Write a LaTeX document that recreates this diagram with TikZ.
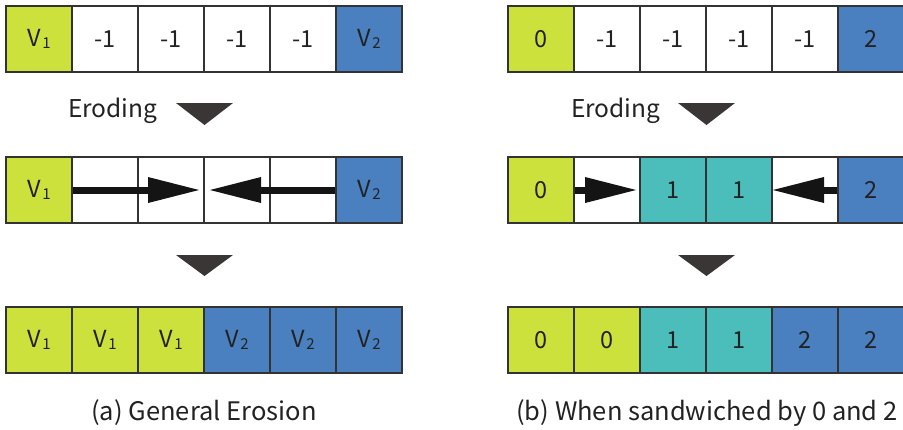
\documentclass[tikz,border=0pt]{standalone}
\usepackage{fontspec}
\setmainfont{Noto Sans CJK JP}
\usetikzlibrary{arrows.meta}
\definecolor{cgreen}{HTML}{CDE13C}
\definecolor{cblue}{HTML}{4A80C0}
\definecolor{cteal}{HTML}{4BBDBA}
\definecolor{cborder}{HTML}{333333}
\definecolor{ctri}{HTML}{3A3636}
\definecolor{ctext}{HTML}{222222}
\newcommand{\Vsub}[1]{V\kern1.5pt\raisebox{-1.5pt}{\fontsize{15}{15}\selectfont #1}}
\tikzset{
  cell/.style={draw=cborder, line width=2pt, minimum width=66pt, minimum height=66pt,
    inner sep=0pt, text=ctext, font=\fontsize{23.5}{23.5}\selectfont},
  gcell/.style={cell, fill=cgreen},
  bcell/.style={cell, fill=cblue},
  tcell/.style={cell, fill=cteal},
  wcell/.style={cell, fill=white},
  lbl/.style={inner sep=0pt, text=ctext, font=\fontsize{24.5}{24.5}\selectfont, anchor=base west},
  captext/.style={inner sep=0pt, text=ctext, font=\fontsize{25.5}{25.5}\selectfont, anchor=base},
  flow/.style={line width=7pt, draw=black!92, -{Triangle[length=51pt,width=26pt,line width=0pt]}},
  downtri/.style={fill=ctri}
}
\begin{document}
\begin{tikzpicture}[x=1pt,y=-1pt]
\useasboundingbox (0,0) rectangle (903,429);
% ---------- left panel ----------
% top row
\node[gcell] (a11) at (39,39) {\Vsub{1}};
\node[wcell] (a12) at (105,39) {-1};
\node[wcell] (a13) at (171,39) {-1};
\node[wcell] (a14) at (237,39) {-1};
\node[wcell] (a15) at (303,39) {-1};
\node[bcell] (a16) at (369,39) {\Vsub{2}};
\node[lbl] (aer) at (68,117) {Eroding};
\fill[downtri] (176,103) -- (233,103) -- (204.5,125) -- cycle;
% middle row
\node[wcell] (a22) at (105,190) {};
\node[wcell] (a23) at (171,190) {};
\node[wcell] (a24) at (237,190) {};
\node[wcell] (a25) at (303,190) {};
\node[gcell] (a21) at (39,190) {\Vsub{1}};
\node[bcell] (a26) at (369,190) {\Vsub{2}};
\coordinate (atipR) at (199,190);
\coordinate (atipL) at (210,190);
\draw[flow] (a21.east) -- (atipR);
\draw[flow] (a26.west) -- (atipL);
\fill[downtri] (176,255) -- (233,255) -- (204.5,276) -- cycle;
% bottom row
\node[gcell] (a31) at (39,340) {\Vsub{1}};
\node[gcell] (a32) at (105,340) {\Vsub{1}};
\node[gcell] (a33) at (171,340) {\Vsub{1}};
\node[bcell] (a34) at (237,340) {\Vsub{2}};
\node[bcell] (a35) at (303,340) {\Vsub{2}};
\node[bcell] (a36) at (369,340) {\Vsub{2}};
\node[captext] (acap) at (204,420) {(a) General Erosion};
% ---------- right panel ----------
\node[gcell] (b11) at (541,39) {0};
\node[wcell] (b12) at (607,39) {-1};
\node[wcell] (b13) at (673,39) {-1};
\node[wcell] (b14) at (739,39) {-1};
\node[wcell] (b15) at (805,39) {-1};
\node[bcell] (b16) at (871,39) {2};
\node[lbl] (ber) at (571,117) {Eroding};
\fill[downtri] (678,103) -- (735,103) -- (706.5,125) -- cycle;
% middle row
\node[wcell] (b22) at (607,190) {};
\node[wcell] (b25) at (805,190) {};
\node[gcell] (b21) at (541,190) {0};
\node[tcell] (b23) at (673,190) {1};
\node[tcell] (b24) at (739,190) {1};
\node[bcell] (b26) at (871,190) {2};
\coordinate (btipR) at (636,190);
\coordinate (btipL) at (773,190);
\draw[flow] (b21.east) -- (btipR);
\draw[flow] (b26.west) -- (btipL);
\fill[downtri] (678,255) -- (735,255) -- (706.5,276) -- cycle;
% bottom row
\node[gcell] (b31) at (541,340) {0};
\node[gcell] (b32) at (607,340) {0};
\node[tcell] (b33) at (673,340) {1};
\node[tcell] (b34) at (739,340) {1};
\node[bcell] (b35) at (805,340) {2};
\node[bcell] (b36) at (871,340) {2};
\node[captext] (bcap) at (707,420) {(b) When sandwiched by 0 and 2};
\end{tikzpicture}
\end{document}
